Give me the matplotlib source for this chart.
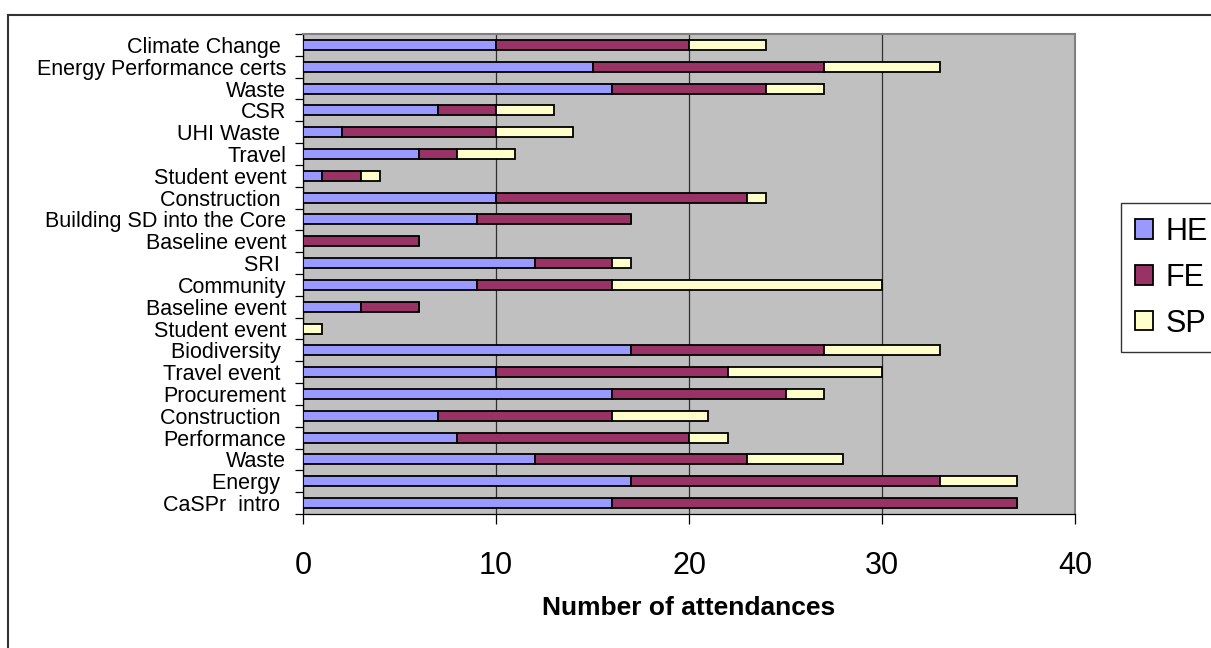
import matplotlib
matplotlib.use("Agg")
import matplotlib.pyplot as plt
from matplotlib.lines import Line2D
import numpy as np

plt.rcParams["font.family"] = ["Liberation Sans", "DejaVu Sans"]

# event names, bottom to top as drawn
events = ["CaSPr  intro ", "Energy ", "Waste", "Performance", "Construction ",
          "Procurement", "Travel event ", "Biodiversity ", "Student event",
          "Baseline event", "Community", "SRI ", "Baseline event",
          "Building SD into the Core", "Construction ", "Student event",
          "Travel", "UHI Waste ", "CSR", "Waste", "Energy Performance certs",
          "Climate Change "]

he = [16, 17, 12, 8, 7, 16, 10, 17, 0, 3, 9, 12, 0, 9, 10, 1, 6, 2, 7, 16, 15, 10]
fe = [21, 16, 11, 12, 9, 9, 12, 10, 0, 3, 7, 4, 6, 8, 13, 2, 2, 8, 3, 8, 12, 10]
sp = [0, 4, 5, 2, 5, 2, 8, 6, 1, 0, 14, 1, 0, 0, 1, 1, 3, 4, 3, 3, 6, 4]

series = ["HE", "FE", "SP"]
colors = ["#9999FF", "#993366", "#FFFFCC"]

W, H = 1211, 648
fig = plt.figure(figsize=(W / 100, H / 100), dpi=100)
ax = fig.add_axes([303 / W, 1 - 514 / H, (1075 - 303) / W, (514 - 34) / H])
ax.set_facecolor("#C0C0C0")

y = np.arange(len(events))
left = np.zeros(len(events))
for name, vals, c in zip(series, [he, fe, sp], colors):
    vals = np.array(vals, dtype=float)
    ax.barh(y, vals, left=left, height=0.46, color=c, edgecolor="black",
            linewidth=1.3, label=name, zorder=3)
    left += vals

ax.set_xlim(0, 40)
ax.set_ylim(-0.5, len(events) - 0.5)
ax.set_xticks([0, 10, 20, 30, 40])
ax.xaxis.grid(True, color="#303030", linewidth=0.9, zorder=1)
ax.set_axisbelow(True)

ax.set_yticks(y)
ax.set_yticklabels(events, fontsize=15.5)
ax.set_yticks(np.arange(-0.5, len(events)), minor=True)
ax.tick_params(axis="y", which="major", length=0, pad=12)
ax.tick_params(axis="y", which="minor", length=6, width=0.9, direction="out")
ax.tick_params(axis="x", length=7, width=0.9, direction="out", labelsize=22, pad=20)

for s in ["top", "right"]:
    ax.spines[s].set_color("#808080")
    ax.spines[s].set_linewidth(1.5)
for s in ["left", "bottom"]:
    ax.spines[s].set_color("black")
    ax.spines[s].set_linewidth(0.9)

fig.text((303 + 1075) / 2 / W, 1 - 608 / H, "Number of attendances",
         ha="center", va="center", fontsize=19, fontweight="bold")

handles, labels = ax.get_legend_handles_labels()
leg = fig.legend(handles, labels, loc="upper left",
                 bbox_to_anchor=(1121 / W, 1 - 203 / H),
                 bbox_transform=fig.transFigure, fontsize=22,
                 frameon=True, fancybox=False, shadow=False,
                 borderaxespad=0, borderpad=0.45, labelspacing=0.52,
                 handlelength=0.6, handleheight=0.6, handletextpad=0.4)
leg.get_frame().set_edgecolor("black")
leg.get_frame().set_linewidth(1.0)

# outer chart border
fig.add_artist(Line2D([8 / W, 1], [1 - 15 / H, 1 - 15 / H], color="#333333",
                      linewidth=1.5, transform=fig.transFigure))
fig.add_artist(Line2D([8 / W, 8 / W], [1 - 15 / H, 0], color="#333333",
                      linewidth=1.5, transform=fig.transFigure))

fig.savefig("out.png", dpi=100)
